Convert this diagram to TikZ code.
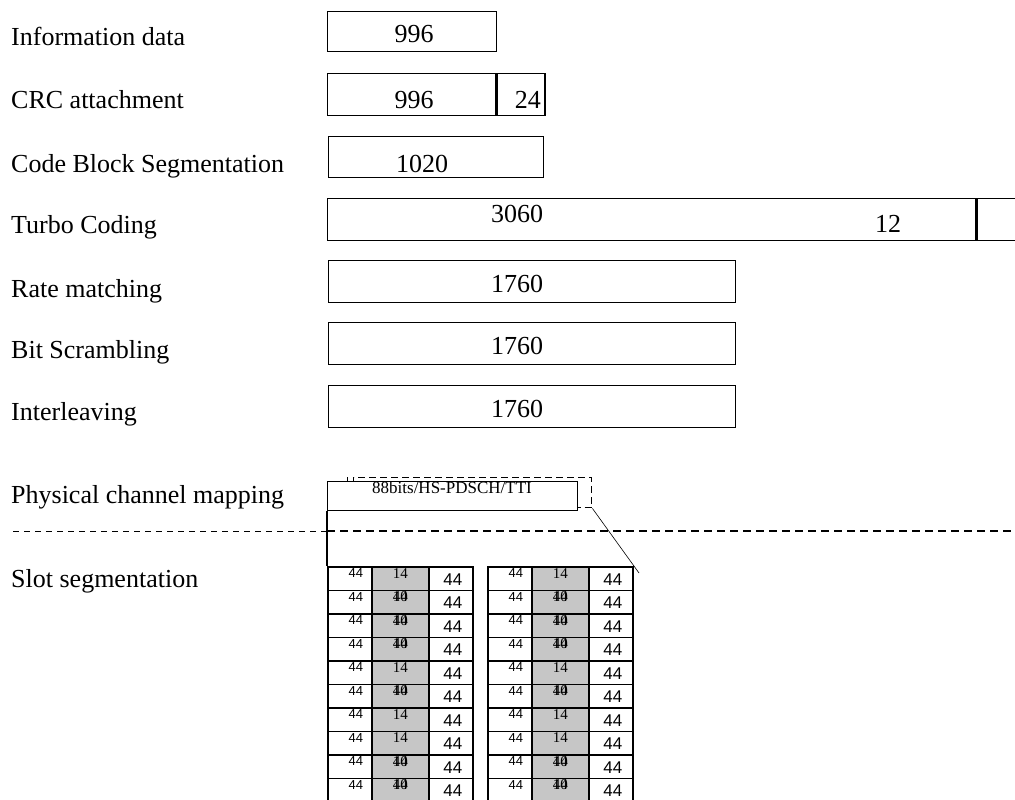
\documentclass[tikz,border=0pt]{standalone}
\usepackage{fontspec}
\setmainfont{Liberation Serif}
\newfontfamily\arialfont{Liberation Sans}
\newcommand{\lblsize}{\fontsize{26}{30}\selectfont}
\newcommand{\tinysize}{\fontsize{17}{20}\selectfont}
\newcommand{\cellsize}{\fontsize{15}{17}\selectfont}

\begin{document}
\begin{tikzpicture}[x=1pt,y=-1pt,
    blk/.style={draw, line width=1.4pt, inner sep=0pt, anchor=north west, fill=white},
    lbl/.style={anchor=base west, inner sep=0pt, font=\lblsize},
    num/.style={anchor=base, inner sep=0pt, font=\lblsize},
    cell/.style={draw, line width=1.5pt, inner sep=0pt, anchor=north west, minimum height=23.5pt}]
      \useasboundingbox (0,0) rectangle (1015,800);
      \clip (0,0) rectangle (1015,800);

      % stage names
      \foreach \y/\t [count=\i] in {46/Information data, 108/CRC attachment,
          172/Code Block Segmentation, 233/Turbo Coding, 297/Rate matching,
          358/Bit Scrambling, 420/Interleaving, 503/Physical channel mapping,
          587/Slot segmentation}
      {
        \node (l\i) at (11,\y) [lbl] {\t};
      }

      % bit blocks
      \node (info) at (327,11) [blk, minimum width=169pt, minimum height=40pt] {};
      \node at (414,43) [num] {996};
      \node (crc) at (327,73) [blk, minimum width=168pt, minimum height=42pt] {};
      \node (crcb) at (crc.north east) [blk, minimum width=48pt, minimum height=42pt] {};
      \node at (414,108) [num] {996};
      \node at (541,108) [num, anchor=base east] {24};
      \node (cbs) at (328,136) [blk, minimum width=215pt, minimum height=41pt] {};
      \node at (422,172) [num] {1020};
      \node (turbo) at (327,198) [blk, minimum width=648pt, minimum height=42pt] {};
      \node (turbob) at (turbo.north east) [blk, minimum width=60pt, minimum height=42pt] {};
      \node at (517,222) [num] {3060};
      \node at (888,232) [num] {12};
      \foreach \y/\n in {260/rm, 322/bs, 385/il}
      {
        \node (\n) at (328,\y) [blk, minimum width=407pt, minimum height=42pt] {};
        \node at (517,\y+32) [num] {1760};
      }

      % physical channel
      \node (dsh) at (353,477) [blk, dashed, dash pattern=on 7pt off 4pt, minimum width=238pt, minimum height=30pt] {};
      \draw[thin] (dsh.north west) ++(-6,0) -- ++(0,8);
      \node (pcm) at (327,481) [blk, minimum width=250pt, minimum height=29pt] {};
      \node at (452,493) [anchor=base, inner sep=0pt, font=\tinysize] {88bits/HS-PDSCH/TTI};

      % split line
      \coordinate (sl) at (13,531);
      \coordinate (sm) at (327,531);
      \coordinate (sr) at (1015,531);
      \draw[dashed, dash pattern=on 6pt off 5pt, semithick] (sl) -- (sm);
      \draw[dash pattern=on 8pt off 5pt, line width=1.4pt] (sm) -- (sr);

      % slots
      \foreach \t/\xo in {a/327, b/487}
      {
        \foreach \r in {0,...,9}
        {
          \node (\t\r l) at (\xo,566+23.5*\r) [cell, minimum width=44pt] {};
          \node (\t\r m) at (\xo+44,566+23.5*\r) [cell, fill=gray!45, minimum width=57pt] {};
          \node (\t\r r) at (\xo+101,566+23.5*\r) [cell, minimum width=44pt] {};
          \node at ([xshift=6pt,yshift=-2.5pt]\t\r l.north) [anchor=north, inner sep=0pt, font=\arialfont\fontsize{13}{15}\selectfont] {44};
          \node at ([xshift=2pt,yshift=-1pt]\t\r r.center) [inner sep=0pt, font=\arialfont\fontsize{17}{19}\selectfont] {44};
          \node at ([yshift=-2pt]\t\r m.north) [anchor=north, inner sep=0pt, font=\cellsize] {14};
        }
        \foreach \r in {1,2,3,5,8,9}
        {
          \node at ([yshift=-2pt]\t\r m.north) [anchor=north, inner sep=0pt, font=\cellsize] {40};
        }
      }
      \draw[line width=1.5pt] (pcm.south west) -- (a0l.north west);
      \coordinate (dend) at (639,573);
      \draw[semithick] (dsh.south east) -- (dend);
    \end{tikzpicture}
\end{document}
